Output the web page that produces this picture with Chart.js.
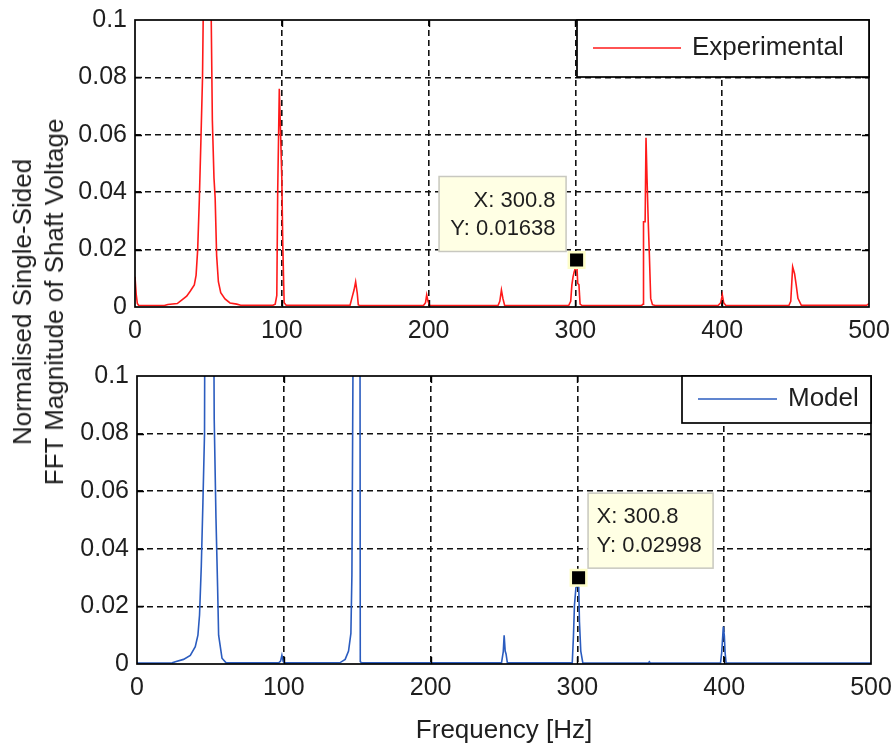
<!DOCTYPE html>
<html>
<head>
<meta charset="utf-8">
<title>Shaft voltage spectrum</title>
<script src="https://cdn.jsdelivr.net/npm/chart.js@4.4.0/dist/chart.umd.min.js"></script>
<style>
  html, body { margin: 0; padding: 0; background: #fff; }
  #fig { position: relative; width: 895px; height: 749px; overflow: hidden; background: #fff; }
  #fig canvas { position: absolute; left: 0; top: 0; }
  #ylab {
    position: absolute; left: 38px; top: 302px;
    transform: translate(-50%, -50%) rotate(-90deg);
    font: 26px "Liberation Sans", Arial, sans-serif;
    line-height: 32px; text-align: center; white-space: nowrap; color: #1e1e1e;
  }
</style>
</head>
<body>
<div id="fig">
  <canvas id="expChart" width="895" height="749"></canvas>
  <canvas id="modChart" width="895" height="749"></canvas>
  <div id="ylab">Normalised Single-Sided<br>FFT Magnitude of Shaft Voltage</div>
</div>
<script>
// ---- axis ticks ----
const xTickValues = [0, 100, 200, 300, 400, 500];
const xTickLabels = ['0', '100', '200', '300', '400', '500'];
const yTickValues = [0, 0.02, 0.04, 0.06, 0.08, 0.1];
const yTickLabels = ['0', '0.02', '0.04', '0.06', '0.08', '0.1'];
const xTitle = 'Frequency [Hz]';

// ---- experimental spectrum (Hz, normalised magnitude) ----
const expFreq = [
  0, 0.8, 1.6, 2.4, 20.0, 22.4, 28.8, 32.0, 35.2, 37.6, 40.4, 41.6, 42.7, 43.8, 44.9, 46.0,
  47.1, 48.2, 49.3, 50.4, 51.5, 52.7, 53.8, 54.6, 55.6, 56.8, 58.4, 61.3, 64.7, 69.3, 72.0,
  94.0, 95.5, 96.6, 97.2, 98.3, 99.3, 100.0, 100.7, 101.6, 103.0,
  146.5, 148.0, 149.2, 150.3, 151.4, 152.1, 153.0,
  196.5, 197.9, 198.7, 199.6, 200.8,
  247.3, 248.5, 249.6, 250.6, 251.8,
  295.5, 296.8, 297.6, 298.4, 299.2, 300.0, 300.8, 301.6, 302.4, 303.2, 304.5,
  345.0, 346.1, 346.4, 347.5, 348.1, 348.8, 349.6, 350.4, 351.3, 352.5, 354.3,
  397.2, 399.0, 400.1, 401.0, 402.5,
  445.5, 446.7, 447.4, 448.0, 449.3, 450.4, 451.6, 453.9,
  498.4, 500.0
];
const expAmp = [
  0.0105, 0.0045, 0.0012, 0.0006, 0.0005, 0.0009, 0.0012, 0.0025, 0.0038, 0.0055, 0.0077, 0.011, 0.020, 0.037, 0.058, 0.080,
  0.13, 0.35, 1.0, 0.45, 0.12, 0.065, 0.045, 0.038, 0.018, 0.0088, 0.005, 0.0028, 0.0014, 0.001, 0.0006,
  0.0006, 0.001, 0.004, 0.040, 0.076, 0.058, 0.045, 0.021, 0.0015, 0.0006,
  0.0006, 0.0036, 0.0059, 0.0088, 0.0048, 0.0008, 0.0005,
  0.0005, 0.0015, 0.0042, 0.002, 0.0005,
  0.0005, 0.002, 0.0059, 0.003, 0.0005,
  0.0006, 0.002, 0.0077, 0.0105, 0.0123, 0.0135, 0.01638, 0.0082, 0.0078, 0.001, 0.0005,
  0.0005, 0.001, 0.0297, 0.0297, 0.059, 0.0448, 0.030, 0.018, 0.003, 0.0008, 0.0005,
  0.0005, 0.0015, 0.0042, 0.0015, 0.0005,
  0.0006, 0.002, 0.0085, 0.014, 0.0116, 0.0077, 0.003, 0.0006,
  0.0006, 0.0012
];

// ---- model spectrum (Hz, normalised magnitude) ----
const modFreq = [
  0, 24.0, 26.1, 31.7, 36.3, 39.7, 41.5, 42.6, 43.8, 44.9, 46.0,
  47.1, 48.2, 49.3, 50.4, 51.5, 52.6, 53.8, 54.9, 55.6, 57.9, 60.7,
  96.5, 97.8, 98.7, 99.6, 100.5,
  138.4, 141.8, 144.1, 145.7, 146.4, 147.4, 148.5, 149.6, 150.6, 151.6, 152.1, 153.0,
  248.3, 249.5, 250.1, 250.8, 251.4, 252.3,
  296.5, 297.3, 298.0, 299.0, 300.0, 300.8, 301.4, 302.3, 303.7,
  348.2, 349.0, 349.8,
  397.5, 398.3, 399.4, 400.1, 400.6, 401.3,
  500.0
];
const modAmp = [
  0.0003, 0.0004, 0.0008, 0.0016, 0.003, 0.006, 0.010, 0.017, 0.034, 0.056, 0.080,
  0.3, 0.7, 1.0, 0.6, 0.2, 0.085, 0.0506, 0.0268, 0.010, 0.002, 0.0004,
  0.0004, 0.001, 0.003, 0.0008, 0.0004,
  0.0005, 0.0016, 0.0045, 0.0106, 0.031, 0.13, 0.5, 0.9, 0.6, 0.3, 0.0008, 0.0004,
  0.0004, 0.0043, 0.010, 0.0045, 0.0035, 0.0004,
  0.0004, 0.0095, 0.0205, 0.0265, 0.027, 0.02998, 0.0147, 0.0045, 0.0004,
  0.0003, 0.0008, 0.0003,
  0.0004, 0.004, 0.013, 0.0098, 0.004, 0.0004,
  0.0003
];

// ---- data cursors ----
const expTip = { x: 300.8, y: 0.01638 };
const modTip = { x: 300.8, y: 0.02998 };

const FONT = '"Liberation Sans", Arial, sans-serif';
const INK = '#1e1e1e';
const GRID = '#111';
Chart.defaults.font.family = FONT;

const zip = (xs, ys) => xs.map((x, i) => ({ x, y: ys[i] }));

// Axes box, inner tick marks, in-axes legend and data-cursor label
const decor = {
  id: 'decor',
  afterDatasetsDraw(chart, args, o) {
    const { ctx, chartArea: a, scales: { x, y } } = chart;
    ctx.save();

    // inner tick marks on all four sides
    ctx.strokeStyle = '#000';
    ctx.lineWidth = 1.4;
    ctx.setLineDash([]);
    ctx.beginPath();
    xTickValues.slice(1, -1).forEach(v => {
      const px = Math.round(x.getPixelForValue(v)) + 0.5;
      ctx.moveTo(px, a.bottom); ctx.lineTo(px, a.bottom - 7);
      ctx.moveTo(px, a.top); ctx.lineTo(px, a.top + 7);
    });
    yTickValues.slice(1, -1).forEach(v => {
      const py = Math.round(y.getPixelForValue(v)) + 0.5;
      ctx.moveTo(a.left, py); ctx.lineTo(a.left + 7, py);
      ctx.moveTo(a.right, py); ctx.lineTo(a.right - 7, py);
    });
    ctx.stroke();

    // axes box
    ctx.lineWidth = 1.7;
    ctx.strokeRect(a.left, a.top, a.right - a.left, a.bottom - a.top);

    // legend in the upper-right corner
    const L = o.legend;
    const lx = a.right - L.w, ly = a.top;
    ctx.fillStyle = '#fff';
    ctx.fillRect(lx, ly, L.w, L.h);
    ctx.strokeStyle = '#000';
    ctx.lineWidth = 1.7;
    ctx.strokeRect(lx, ly, L.w, L.h);
    ctx.strokeStyle = o.color;
    ctx.lineWidth = 1.6;
    ctx.beginPath();
    ctx.moveTo(lx + 16, ly + L.sy);
    ctx.lineTo(lx + 16 + L.len, ly + L.sy);
    ctx.stroke();
    ctx.fillStyle = INK;
    ctx.font = '26px ' + FONT;
    ctx.textAlign = 'left';
    ctx.textBaseline = 'middle';
    ctx.fillText(L.text, lx + L.tx, ly + L.sy);

    // data-cursor label box
    const T = o.tip;
    const mx = x.getPixelForValue(T.x), my = y.getPixelForValue(T.y);
    const bx = T.side === 'left' ? mx - T.gap - T.w : mx + T.gap;
    const by = my - T.lift - T.h;
    ctx.fillStyle = '#ffffe4';
    ctx.fillRect(bx, by, T.w, T.h);
    ctx.strokeStyle = '#c8c8c0';
    ctx.lineWidth = 1.5;
    ctx.strokeRect(bx + 0.5, by + 0.5, T.w - 1, T.h - 1);
    ctx.fillStyle = INK;
    ctx.font = '22px ' + FONT;
    ctx.textBaseline = 'middle';
    if (T.side === 'left') {
      ctx.textAlign = 'right';
      ctx.fillText('X: ' + T.x, bx + T.w - 11, by + 25);
      ctx.fillText('Y: ' + T.y, bx + T.w - 11, by + 53);
    } else {
      ctx.textAlign = 'left';
      ctx.fillText('X: ' + T.x, bx + 9, by + 24);
      ctx.fillText('Y: ' + T.y, bx + 9, by + 53);
    }
    ctx.restore();
  }
};

function makePanel(id, cfg) {
  return new Chart(document.getElementById(id), {
    type: 'scatter',
    data: {
      datasets: [
        {
          data: [{ x: cfg.tip.x, y: cfg.tip.y }],
          pointStyle: 'rect',
          pointRadius: 11,
          backgroundColor: '#000',
          borderColor: '#fdfdc8',
          borderWidth: 2.5,
          clip: false,
          order: 0
        },
        {
          data: zip(cfg.freq, cfg.amp),
          showLine: true,
          borderColor: cfg.color,
          borderWidth: 1.6,
          pointRadius: 0,
          tension: 0,
          order: 1
        }
      ]
    },
    options: {
      responsive: false,
      animation: false,
      events: [],
      layout: { padding: cfg.padding },
      plugins: {
        legend: { display: false },
        tooltip: { enabled: false },
        decor: { color: cfg.color, legend: cfg.legend, tip: cfg.tipBox }
      },
      scales: {
        x: {
          type: 'linear', min: 0, max: 500,
          afterBuildTicks: s => { s.ticks = xTickValues.map(v => ({ value: v })); },
          afterFit: s => { s.height = cfg.xHeight; s.paddingLeft = 0; s.paddingRight = 0; },
          grid: { drawTicks: false, color: c => (c.tick && (c.tick.value === 0 || c.tick.value === 500)) ? 'rgba(0,0,0,0)' : GRID, lineWidth: 1.6 },
          border: { display: false, dash: [6, 4] },
          ticks: {
            padding: 9, color: INK, font: { size: 25 }, maxRotation: 0, autoSkip: false,
            callback: (v, i) => xTickLabels[i]
          },
          title: cfg.showTitle ? { display: true, text: xTitle, color: INK, font: { size: 26 }, padding: { top: 0, bottom: 3 } } : { display: false }
        },
        y: {
          type: 'linear', min: 0, max: 0.1,
          afterBuildTicks: s => { s.ticks = yTickValues.map(v => ({ value: v })); },
          afterFit: s => { s.width = cfg.yWidth; s.paddingTop = 0; s.paddingBottom = 0; },
          grid: { drawTicks: false, color: c => (c.tick && (c.tick.value === 0 || c.tick.value === 0.1)) ? 'rgba(0,0,0,0)' : GRID, lineWidth: 1.6 },
          border: { display: false, dash: [6, 4] },
          ticks: {
            padding: 8, color: INK, font: { size: 25 },
            callback: (v, i) => yTickLabels[i]
          }
        }
      }
    },
    plugins: [decor]
  });
}

makePanel('expChart', {
  freq: expFreq, amp: expAmp, color: '#ff1a1a', tip: expTip,
  padding: { left: 0, right: 26, top: 20, bottom: 397 },
  xHeight: 45, yWidth: 135, showTitle: false,
  legend: { text: 'Experimental', w: 292, h: 57, sy: 28, len: 88, tx: 115 },
  tipBox: { x: expTip.x, y: expTip.y, side: 'left', w: 128, h: 76, gap: 10, lift: 8 }
});

makePanel('modChart', {
  freq: modFreq, amp: modAmp, color: '#2b5cbf', tip: modTip,
  padding: { left: 0, right: 24, top: 376, bottom: 0 },
  xHeight: 85, yWidth: 137, showTitle: true,
  legend: { text: 'Model', w: 189, h: 47, sy: 23, len: 79, tx: 106 },
  tipBox: { x: modTip.x, y: modTip.y, side: 'right', w: 126, h: 76, gap: 9, lift: 9 }
});
</script>
</body>
</html>
